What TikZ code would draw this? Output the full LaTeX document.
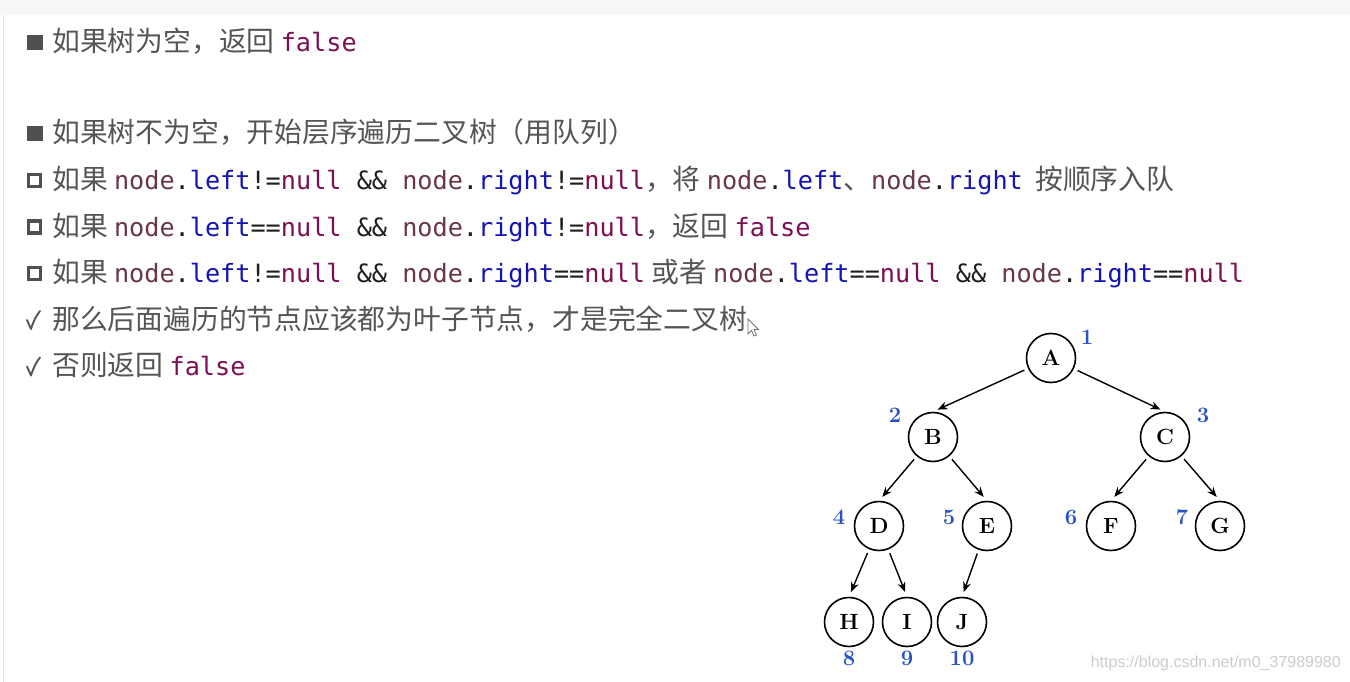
\documentclass[tikz,border=0pt]{standalone}
\usepackage{fontspec}
\usetikzlibrary{arrows.meta}
\newfontfamily\cjk{Noto Sans CJK SC}
\newfontfamily\code{DejaVu Sans Mono}
\newfontfamily\wm{Liberation Sans}
\definecolor{txtcol}{RGB}{85,85,85}
\definecolor{boxcol}{RGB}{80,80,80}
\definecolor{objcol}{RGB}{105,55,70}
\definecolor{fldcol}{RGB}{20,20,180}
\definecolor{kwcol}{RGB}{125,15,85}
\definecolor{opcol}{RGB}{30,30,30}
\definecolor{numcol}{RGB}{40,80,200}
\newcommand{\obj}[1]{\textcolor{objcol}{#1}}
\newcommand{\fld}[1]{\textcolor{fldcol}{#1}}
\newcommand{\kw}[1]{\textcolor{kwcol}{#1}}
\newcommand{\src}[1]{{\code\fontsize{25.2}{30}\selectfont\color{opcol}#1}}

\begin{document}
\begin{tikzpicture}[x=1pt,y=-1pt,
    txt/.style={anchor=base west,inner sep=0,text=txtcol,font=\cjk\fontsize{27.8}{30}\selectfont},
    tick/.style={draw=txtcol,line width=1.9pt,line cap=round,line join=round},
    fullbox/.style={fill=boxcol},
    hollowbox/.style={draw=boxcol,line width=3.4pt},
    vtx/.style={circle,draw,line width=1.6pt,minimum size=49pt,inner sep=0pt,font=\bfseries\fontsize{22}{22}\selectfont},
    num/.style={inner sep=0pt,text=numcol,font=\bfseries\fontsize{22}{22}\selectfont},
    edge/.style={line width=1.4pt,-{Stealth[length=10pt,width=8pt]},shorten <=4pt,shorten >=5pt}]
  \useasboundingbox (0,0) rectangle (1350,682);
  \fill[white] (0,0) rectangle (1350,682);
  \fill[black!3] (0,0) rectangle (1350,15);
  \draw[black!9,line width=1pt] (3,15) -- (3,682);

  % list of rules
  \fill[fullbox] (27,35) rectangle (42.5,50.5);
  \node[txt] (l1) at (52,51.5) {如果树为空，返回 \src{\kw{false}}};
  \fill[fullbox] (27,126) rectangle (42.5,141.5);
  \node[txt] (l2) at (52,142.5) {如果树不为空，开始层序遍历二叉树（用队列）};
  \draw[hollowbox] (28.5,174.5) rectangle (40.5,186.5);
  \node[txt] (l3) at (52,189.5) {如果 \src{\obj{node}.\fld{left}!=\kw{null} \&\& \obj{node}.\fld{right}!=\kw{null}}，将 \src{\obj{node}.\fld{left}}、\src{\obj{node}.\fld{right}} \ 按顺序入队};
  \draw[hollowbox] (28.5,221) rectangle (40.5,233);
  \node[txt] (l4) at (52,236) {如果 \src{\obj{node}.\fld{left}==\kw{null} \&\& \obj{node}.\fld{right}!=\kw{null}}，返回 \src{\kw{false}}};
  \draw[hollowbox] (28.5,267.5) rectangle (40.5,279.5);
  \node[txt] (l5) at (52,282.5) {如果 \src{\obj{node}.\fld{left}!=\kw{null} \&\& \obj{node}.\fld{right}==\kw{null}} 或者 \src{\obj{node}.\fld{left}==\kw{null} \&\& \obj{node}.\fld{right}==\kw{null}}};
  \draw[tick] (27,320) -- (31,329) .. controls (33.5,321) and (36.5,315) .. (40,311);
  \node[txt] (l6) at (52,329) {那么后面遍历的节点应该都为叶子节点，才是完全二叉树};
  \draw[tick] (27,366.5) -- (31,375.5) .. controls (33.5,367.5) and (36.5,361.5) .. (40,357.5);
  \node[txt] (l7) at (52,375.5) {否则返回 \src{\kw{false}}};

  % mouse pointer
  \draw[black!55,fill=white,line width=0.8pt] (748,319) -- (748,334) -- (751.5,330.5) -- (754,336) -- (756.5,335) -- (754,329.5) -- (758.5,329.5) -- cycle;

  % tree
  \node[vtx] (A) at (1051,358) {A};
  \node[vtx] (B) at (933,437) {B};
  \node[vtx] (C) at (1165,437) {C};
  \node[vtx] (D) at (879,526) {D};
  \node[vtx] (E) at (987,526) {E};
  \node[vtx] (F) at (1111,526) {F};
  \node[vtx] (G) at (1220,526) {G};
  \node[vtx] (H) at (849,622) {H};
  \node[vtx] (I) at (907,622) {I};
  \node[vtx] (J) at (962,622) {J};
  \draw[edge] (A) -- (B.north);
  \draw[edge] (A) -- (C.north);
  \draw[edge] (B) -- (D.north);
  \draw[edge] (B) -- (E.north);
  \draw[edge] (C) -- (F.north);
  \draw[edge] (C) -- (G.north);
  \draw[edge] (D) -- (H.north);
  \draw[edge] (D) -- (I.north);
  \draw[edge] (E) -- (J.north);

  % numbering
  \node[num] (n1) at (1087,337) {1};
  \node[num] (n2) at (895,415) {2};
  \node[num] (n3) at (1203,415) {3};
  \node[num] (n4) at (839,517) {4};
  \node[num] (n5) at (949,517) {5};
  \node[num] (n6) at (1071,517) {6};
  \node[num] (n7) at (1182,517) {7};
  \node[num] (n8) at (849,658) {8};
  \node[num] (n9) at (907,658) {9};
  \node[num] (n10) at (962,658) {10};

  \node[anchor=east,inner sep=0,text=black!20,font=\wm\fontsize{16}{16}\selectfont] (mark) at (1341,663) {https://blog.csdn.net/m0\_37989980};
\end{tikzpicture}
\end{document}
